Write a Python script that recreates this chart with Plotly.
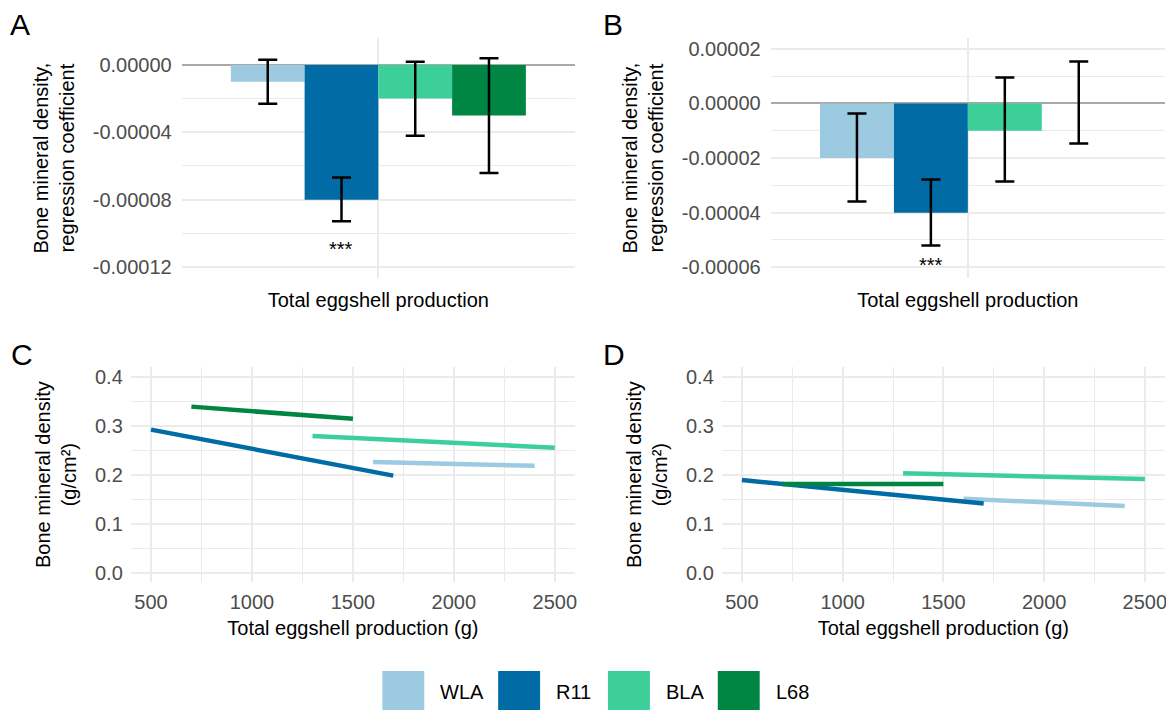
import plotly.graph_objects as go

# ---------------- data ----------------
groups = ["WLA", "R11", "BLA", "L68"]
colors = ["#9ccae1", "#006ba4", "#3ccf9a", "#008542"]
category = "Total eggshell production"

# Panel A: regression coefficients and 95% CI
coef_A = [-0.00001, -0.00008, -0.00002, -0.00003]
lower_A = [-0.000023, -0.0000928, -0.000042, -0.0000641]
upper_A = [0.000003, -0.0000668, 0.0000018, 0.000004]
sig_A = ["", "***", "", ""]
sig_y_A = [None, -0.000109, None, None]

# Panel B
coef_B = [-0.00002, -0.00004, -0.00001, 0.0]
lower_B = [-0.0000359, -0.000052, -0.0000286, -0.0000147]
upper_B = [-0.0000037, -0.0000278, 0.0000095, 0.0000154]
sig_B = ["", "***", "", ""]
sig_y_B = [None, -0.0000590, None, None]

# Panel C: fitted lines (start, end)
x_C = {"WLA": [1600, 2400], "R11": [500, 1700], "BLA": [1300, 2500], "L68": [700, 1500]}
y_C = {"WLA": [0.226, 0.218], "R11": [0.292, 0.198], "BLA": [0.279, 0.255], "L68": [0.339, 0.314]}

# Panel D
x_D = {"WLA": [1600, 2400], "R11": [500, 1700], "BLA": [1300, 2500], "L68": [700, 1500]}
y_D = {"WLA": [0.151, 0.136], "R11": [0.189, 0.141], "BLA": [0.203, 0.191], "L68": [0.181, 0.181]}

bar_ticks_A = [-0.00012, -0.00008, -0.00004, 0.0]
bar_minor_A = [-0.0001, -0.00006, -0.00002]
bar_ticks_B = [-0.00006, -0.00004, -0.00002, 0.0, 0.00002]
bar_minor_B = [-0.00005, -0.00003, -0.00001, 0.00001]
line_y_ticks = [0.0, 0.1, 0.2, 0.3, 0.4]
line_y_minor = [0.05, 0.15, 0.25, 0.35]
line_x_ticks = [500, 1000, 1500, 2000, 2500]
line_x_minor = [750, 1250, 1750, 2250]

# ---------------- layout helpers ----------------
OFF = 8  # page body margin
W, H = 1174 - OFF, 710 - OFF
FONT = "Arial, Liberation Sans, sans-serif"
GRID = "#ebebeb"
TICKC = "#4d4d4d"
FS = 20


def px_x(p):
    return (p - OFF) / W


def px_y(p):
    return 1 - (p - OFF) / H


def dx(l, r):
    return [px_x(l), px_x(r)]


def dy(t, b):
    return [px_y(b), px_y(t)]


fig = go.Figure()

bargap = 0.1
bar_w = (1 - bargap) / len(groups)

for coef, lo, up, xa, ya in [
        (coef_A, lower_A, upper_A, "x", "y"),
        (coef_B, lower_B, upper_B, "x2", "y2")]:
    for i, g in enumerate(groups):
        fig.add_trace(go.Bar(
            x=[category], y=[coef[i]], name=g, marker=dict(color=colors[i], line=dict(width=0)),
            error_y=dict(type="data", symmetric=False,
                         array=[up[i] - coef[i]], arrayminus=[coef[i] - lo[i]],
                         color="black", thickness=2.5, width=9.5),
            xaxis=xa, yaxis=ya, showlegend=False, offsetgroup=g))

for g_i, g in enumerate(groups):
    fig.add_trace(go.Scatter(x=x_C[g], y=y_C[g], mode="lines", line=dict(color=colors[g_i], width=4.5),
                             xaxis="x3", yaxis="y3", showlegend=False))
    fig.add_trace(go.Scatter(x=x_D[g], y=y_D[g], mode="lines", line=dict(color=colors[g_i], width=4.5),
                             xaxis="x4", yaxis="y4", showlegend=False))

annotations = []
for sig, sig_y, yref, xref in [(sig_A, sig_y_A, "y", "x"), (sig_B, sig_y_B, "y2", "x2")]:
    for i, s in enumerate(sig):
        if s:
            xc = -(1 - bargap) / 2 + bar_w * (i + 0.5)
            annotations.append(dict(x=xc, y=sig_y[i], xref=xref, yref=yref, text=s, showarrow=False,
                                    font=dict(size=FS, color="black", family=FONT)))

for lab, px, py in [("A", 8, 24), ("B", 602, 24), ("C", 9, 354), ("D", 602, 354)]:
    annotations.append(dict(x=px_x(px), y=px_y(py), xref="paper", yref="paper", text=lab,
                            showarrow=False, xanchor="left", yanchor="middle",
                            font=dict(size=30, color="black", family=FONT)))

# custom legend (large keys)
shapes = []
key_x = [383, 499, 609, 719]
for i, g in enumerate(groups):
    x0 = key_x[i]
    shapes.append(dict(type="rect", xref="paper", yref="paper", x0=px_x(x0), x1=px_x(x0 + 42),
                       y0=px_y(714), y1=px_y(672), fillcolor=colors[i], line=dict(width=0)))
    annotations.append(dict(x=px_x(x0 + 56), y=px_y(693), xref="paper", yref="paper", text=g,
                            showarrow=False, xanchor="left", yanchor="middle",
                            font=dict(size=FS, color="black", family=FONT)))


def bar_yaxis(dom, rng, ticks, minor, anchor):
    return dict(domain=dom, anchor=anchor, range=rng, tickmode="array", tickvals=ticks,
                ticktext=[f"{v:.5f}" for v in ticks], showgrid=True, gridcolor=GRID, gridwidth=1.6,
                minor=dict(tickmode="array", tickvals=minor, showgrid=True, gridcolor=GRID, gridwidth=1.1),
                zeroline=True, zerolinecolor="#a9a9a9", zerolinewidth=2,
                tickfont=dict(size=FS, color=TICKC, family=FONT), ticks="", ticklabelstandoff=9,
                title=dict(text="Bone mineral density,<br>regression coefficient",
                           font=dict(size=FS, color="black", family=FONT), standoff=12))


def bar_xaxis(dom, anchor):
    return dict(domain=dom, anchor=anchor, type="category", range=[-0.6, 0.6], showgrid=True,
                gridcolor=GRID, gridwidth=1.6, showticklabels=False, ticks="", zeroline=False,
                title=dict(text=category, font=dict(size=FS, color="black", family=FONT), standoff=14))


def line_yaxis(dom, anchor):
    return dict(domain=dom, anchor=anchor, range=[-0.02, 0.42], tickmode="array", tickvals=line_y_ticks,
                ticktext=[f"{v:.1f}" for v in line_y_ticks], showgrid=True, gridcolor=GRID, gridwidth=1.6,
                minor=dict(tickmode="array", tickvals=line_y_minor, showgrid=True, gridcolor=GRID, gridwidth=1.1),
                zeroline=False, ticks="", ticklabelstandoff=7,
                tickfont=dict(size=FS, color=TICKC, family=FONT),
                title=dict(text="Bone mineral density<br>(g/cm²)",
                           font=dict(size=FS, color="black", family=FONT), standoff=12))


def line_xaxis(dom, anchor):
    return dict(domain=dom, anchor=anchor, range=[400, 2600], tickmode="array", tickvals=line_x_ticks,
                ticktext=[str(v) for v in line_x_ticks], showgrid=True, gridcolor=GRID, gridwidth=1.6,
                minor=dict(tickmode="array", tickvals=line_x_minor, showgrid=True, gridcolor=GRID, gridwidth=1.1),
                zeroline=False, ticks="", ticklabelstandoff=6,
                tickfont=dict(size=FS, color=TICKC, family=FONT),
                title=dict(text="Total eggshell production (g)",
                           font=dict(size=FS, color="black", family=FONT), standoff=8))


fig.update_layout(
    width=W, height=H, margin=dict(l=0, r=0, t=0, b=0),
    paper_bgcolor="white", plot_bgcolor="white",
    barmode="group", bargap=bargap, bargroupgap=0,
    showlegend=False,
    font=dict(family=FONT, size=FS, color="black"),
    xaxis=bar_xaxis(dx(182, 576), "y"),
    yaxis=bar_yaxis(dy(37, 278), [-0.0001266, 0.000016], bar_ticks_A, bar_minor_A, "x"),
    xaxis2=bar_xaxis(dx(772, 1167), "y2"),
    yaxis2=bar_yaxis(dy(37, 278), [-0.000064, 0.000024], bar_ticks_B, bar_minor_B, "x2"),
    xaxis3=line_xaxis(dx(131, 576), "y3"), yaxis3=line_yaxis(dy(367, 583), "x3"),
    xaxis4=line_xaxis(dx(723, 1167), "y4"), yaxis4=line_yaxis(dy(367, 583), "x4"),
    annotations=annotations, shapes=shapes,
)

fig.write_html("out.html")
